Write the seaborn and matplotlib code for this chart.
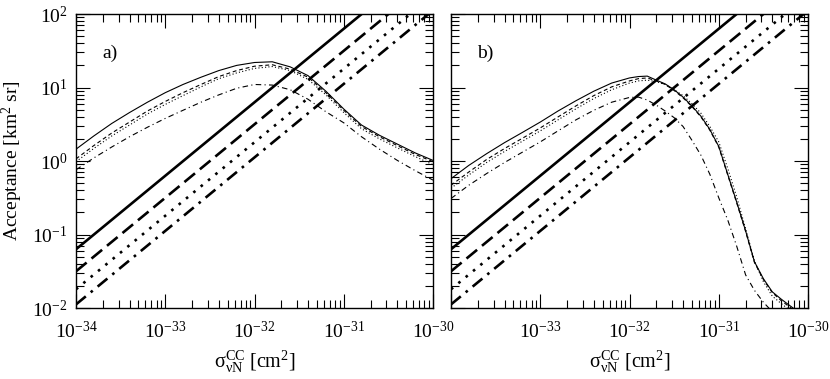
import matplotlib
matplotlib.use("Agg")
import matplotlib.pyplot as plt
import seaborn as sns

# =====================================================
# Data (log-log axes)
# =====================================================

# cross section grid, panel a (0.2 decade steps)
sigma_a = [1.0e-34, 1.58e-34, 2.51e-34, 3.98e-34, 6.31e-34,
           1.0e-33, 1.58e-33, 2.51e-33, 3.98e-33, 6.31e-33,
           1.0e-32, 1.58e-32, 2.51e-32, 3.98e-32, 6.31e-32,
           1.0e-31, 1.58e-31, 2.51e-31, 3.98e-31, 6.31e-31, 1.0e-30]

acc_a_solid = [1.45, 2.19, 3.24, 4.57, 6.31, 8.51, 11.0, 13.8, 17.0, 20.0,
               21.9, 22.4, 19.1, 14.5, 8.9, 5.1, 3.09, 2.24, 1.70, 1.29, 1.02]
acc_a_dashed = [1.07, 1.62, 2.40, 3.39, 4.79, 6.46, 8.51, 11.0, 14.1, 17.0,
                19.5, 20.4, 17.8, 13.8, 8.5, 4.9, 2.95, 2.14, 1.62, 1.23, 0.98]
acc_a_dotted = [0.98, 1.48, 2.19, 3.09, 4.37, 5.89, 7.76, 10.2, 13.2, 15.8,
                18.2, 19.3, 17.0, 12.9, 7.94, 4.57, 2.75, 2.00, 1.51, 1.15, 0.89]
acc_a_dashdot = [0.76, 1.10, 1.55, 2.14, 2.88, 3.80, 4.90, 6.31, 7.94, 9.77,
                 11.0, 10.8, 9.33, 6.92, 4.68, 3.31, 2.14, 1.45, 1.02, 0.74, 0.55]

# cross section grid, panel b (finer where the curves fall off)
sigma_b = [1.0e-34, 1.58e-34, 2.51e-34, 3.98e-34, 6.31e-34,
           1.0e-33, 1.58e-33, 2.51e-33, 3.98e-33, 6.31e-33,
           1.0e-32, 1.26e-32, 1.58e-32, 2.0e-32, 2.51e-32, 3.16e-32, 3.98e-32,
           5.01e-32, 6.31e-32, 7.94e-32, 1.0e-31, 1.26e-31, 1.58e-31, 2.0e-31,
           2.51e-31, 3.16e-31, 3.98e-31, 5.01e-31, 6.31e-31, 7.94e-31]

acc_b_solid = [0.575, 0.871, 1.26, 1.78, 2.45, 3.39, 4.79, 6.61, 8.91, 11.5,
               13.5, 14.1, 14.3, 12.6, 11.2, 9.33, 7.41, 5.62, 4.07, 2.69,
               1.58, 0.66, 0.282, 0.112, 0.0427, 0.0251, 0.0166, 0.0132, 0.0107, 0.0087]
acc_b_dashed = [0.468, 0.708, 1.05, 1.48, 2.04, 2.82, 3.98, 5.62, 7.76, 10.2,
                12.3, 13.2, 13.5, 12.3, 11.0, 9.12, 7.24, 5.50, 3.98, 2.63,
                1.55, 0.646, 0.275, 0.110, 0.0417, 0.0245, 0.0162, 0.0126, 0.0102, 0.0083]
acc_b_dotted = [0.427, 0.646, 0.955, 1.35, 1.86, 2.57, 3.63, 5.13, 7.08, 9.33,
                11.5, 12.3, 12.6, 12.0, 11.0, 9.33, 7.76, 6.03, 4.47, 2.95,
                1.82, 0.794, 0.331, 0.120, 0.0437, 0.0229, 0.0145, 0.0115, 0.0093, 0.0079]
acc_b_dashdot = [0.309, 0.468, 0.676, 0.955, 1.32, 1.82, 2.57, 3.63, 4.90, 6.31,
                 7.33, 7.41, 6.76, 5.75, 4.79, 3.89, 2.95, 1.91, 1.20, 0.661,
                 0.316, 0.158, 0.0708, 0.0282, 0.0174, 0.0120, 0.0089, 0.0063, 0.0050, 0.0040]

# thick straight lines (same in both panels): end points
sigma_line = [1.0e-34, 1.0e-30]
line_solid = [0.063, 630.0]
line_dashed = [0.0316, 316.0]
line_dotted = [0.018, 180.0]
line_dashdot = [0.0112, 112.0]

x_ticks = [1e-34, 1e-33, 1e-32, 1e-31, 1e-30]
x_labels_a = ["$10^{-34}$", "$10^{-33}$", "$10^{-32}$", "$10^{-31}$", "$10^{-30}$"]
x_labels_b = ["", "$10^{-33}$", "$10^{-32}$", "$10^{-31}$", "$10^{-30}$"]
y_ticks = [1e-2, 1e-1, 1e0, 1e1, 1e2]
y_labels = ["$10^{-2}$", "$10^{-1}$", "$10^{0}$", "$10^{1}$", "$10^{2}$"]

# =====================================================
# Style
# =====================================================

sns.set_style("ticks", {"axes.edgecolor": "black", "xtick.color": "black",
                        "ytick.color": "black", "text.color": "black",
                        "axes.labelcolor": "black"})
plt.rcParams["font.family"] = ["Liberation Serif", "DejaVu Serif"]
plt.rcParams["mathtext.fontset"] = "custom"
plt.rcParams["mathtext.rm"] = "Liberation Serif"
plt.rcParams["mathtext.it"] = "Liberation Serif:italic"
plt.rcParams["mathtext.bf"] = "Liberation Serif:bold"
plt.rcParams["axes.unicode_minus"] = False

THIN = 0.8
THICK = 1.9
thin_styles = {"solid": "-", "dashed": (0, (3.5, 2.5)),
               "dotted": (0, (1, 2)), "dashdot": (0, (5, 3, 1, 3))}
thick_styles = {"solid": "-", "dashed": (0, (5.2, 2.4)),
                "dotted": (0, (1, 2.6)), "dashdot": (0, (4.8, 2.4, 1, 2.4))}

fig = plt.figure(figsize=(8.3, 3.79), dpi=100)
ax_a = fig.add_axes([0.0916, 0.1873, 0.4301, 0.7757])
ax_b = fig.add_axes([0.5434, 0.1873, 0.4301, 0.7757])

panels = [
    (ax_a, "a)", sigma_a,
     {"solid": acc_a_solid, "dashed": acc_a_dashed,
      "dotted": acc_a_dotted, "dashdot": acc_a_dashdot}, x_labels_a),
    (ax_b, "b)", sigma_b,
     {"solid": acc_b_solid, "dashed": acc_b_dashed,
      "dotted": acc_b_dotted, "dashdot": acc_b_dashdot}, x_labels_b),
]
lines = {"solid": line_solid, "dashed": line_dashed,
         "dotted": line_dotted, "dashdot": line_dashdot}

for ax, tag, sig, curves, xlabels in panels:
    ax.set_xscale("log")
    ax.set_yscale("log")

    for key, acc in curves.items():
        sns.lineplot(x=sig, y=acc, ax=ax, color="black", lw=THIN,
                     linestyle=thin_styles[key], errorbar=None, sort=False)
    for key, acc in lines.items():
        sns.lineplot(x=sigma_line, y=acc, ax=ax, color="black", lw=THICK,
                     linestyle=thick_styles[key], errorbar=None, sort=False)

    ax.set_xlim(1e-34, 1e-30)
    ax.set_ylim(1e-2, 1e2)
    ax.set_xticks(x_ticks)
    ax.set_xticklabels(xlabels)
    ax.set_yticks(y_ticks)
    ax.tick_params(which="both", direction="in", top=True, right=True,
                   width=0.8, labelsize=14)
    ax.tick_params(which="major", length=10)
    ax.tick_params(which="minor", length=5.5)
    ax.tick_params(axis="x", pad=9)
    ax.tick_params(axis="y", pad=6)
    for sp in ax.spines.values():
        sp.set_linewidth(1.0)

    ax.set_xlabel(r"$\mathrm{\sigma}_{\mathrm{\nu N}}^{\mathrm{CC}}$ [cm$^{2}$]",
                  fontsize=14.5, labelpad=5)
    ax.text(0.073, 0.867, tag, transform=ax.transAxes, fontsize=14,
            va="center", ha="left")

ax_a.set_yticklabels(y_labels)
ax_a.set_ylabel("Acceptance [km$^{2}$ sr]", fontsize=14, labelpad=5)
ax_b.tick_params(axis="y", labelleft=False)
ax_b.set_ylabel("")

fig.savefig("out.png", dpi=100)
plt.close(fig)
